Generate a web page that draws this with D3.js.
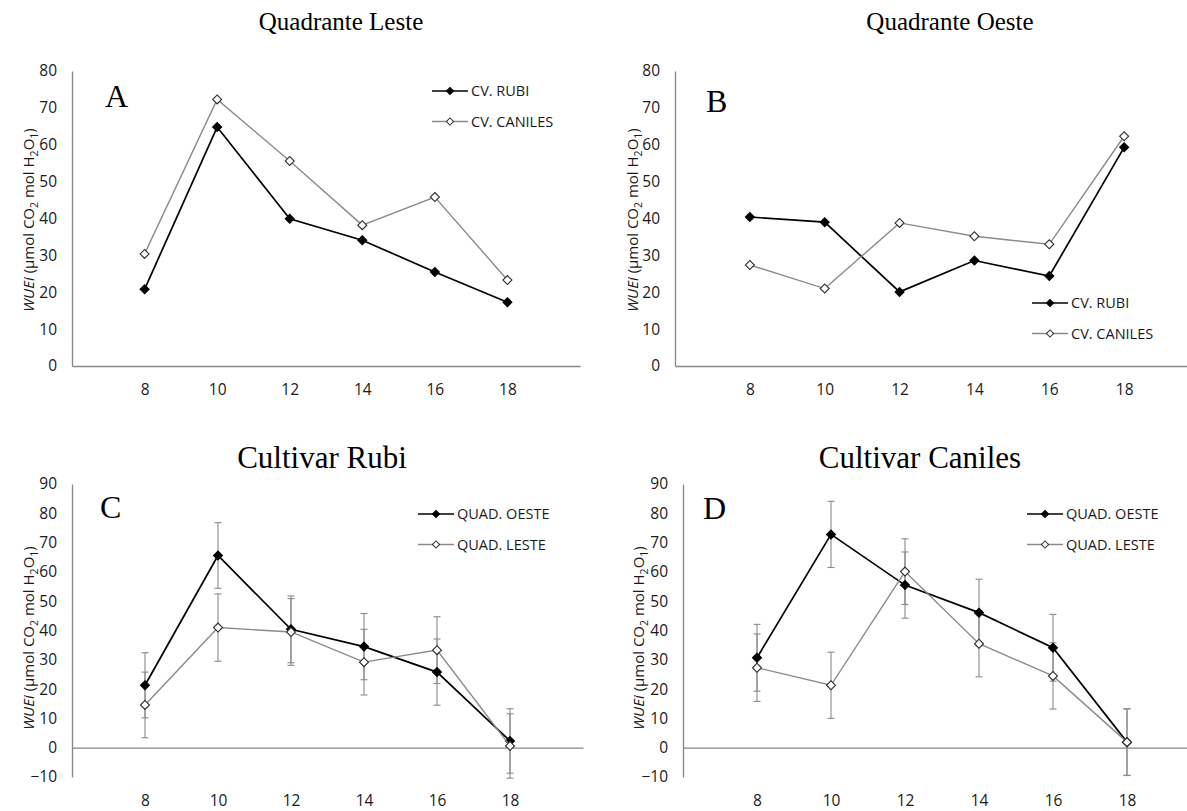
<!DOCTYPE html>
<html>
<head>
<meta charset="utf-8">
<script src="https://cdn.jsdelivr.net/npm/d3@7"></script>
<style>
  body { margin: 0; background: #fff; }
  svg { display: block; }
  .tick text { font-family: "Open Sans", sans-serif; font-size: 15.5px; fill: #1a1a1a; }
  .axis path.domain { stroke: #868686; stroke-width: 1.3px; }
  .title { font-family: "Liberation Serif", "Times New Roman", serif; fill: #000; }
  .letter { font-family: "Liberation Serif", "Times New Roman", serif; font-size: 32px; fill: #000; }
  .legend text { font-family: "Open Sans", sans-serif; font-size: 14.5px; fill: #1a1a1a; }
  .ylabel { font-family: "Open Sans", sans-serif; font-size: 15px; fill: #1a1a1a; }
</style>
</head>
<body>
<div id="chart"></div>
<script>
// hours of the day (x categories)
var hours = [8, 10, 12, 14, 16, 18];
var yTicksTop = [0, 10, 20, 30, 40, 50, 60, 70, 80];
var yTicksBottom = [-10, 0, 10, 20, 30, 40, 50, 60, 70, 80, 90];

// A - Quadrante Leste
var lesteRubi = [20.8, 64.8, 39.9, 34.1, 25.5, 17.3];
var lesteCaniles = [30.4, 72.3, 55.6, 38.2, 45.8, 23.3];
// B - Quadrante Oeste
var oesteRubi = [40.4, 39.0, 20.1, 28.6, 24.4, 59.3];
var oesteCaniles = [27.4, 21.0, 38.8, 35.2, 33.0, 62.3];
// C - Cultivar Rubi
var rubiQuadOeste = [21.3, 65.6, 40.4, 34.5, 25.8, 2.3];
var rubiQuadLeste = [14.6, 41.0, 39.5, 29.2, 33.3, 0.6];
var rubiQuadOesteErr = [11.1, 11.2, 11.4, 11.3, 11.3, 11.0];
var rubiQuadLesteErr = [11.2, 11.5, 11.4, 11.2, 11.4, 11.0];
// D - Cultivar Caniles
var canilesQuadOeste = [30.7, 72.8, 55.5, 46.1, 34.1, 1.9];
var canilesQuadLeste = [27.3, 21.3, 60.1, 35.5, 24.5, 1.9];
var canilesQuadOesteErr = [11.4, 11.3, 11.3, 11.4, 11.4, 11.4];
var canilesQuadLesteErr = [11.5, 11.3, 11.2, 11.3, 11.3, 11.3];

var svg = d3.select("#chart").append("svg")
    .attr("width", 1187)
    .attr("height", 811);

var panels = [
  { title: "Quadrante Leste", titleX: 341, titleY: 30, titleSize: 25, letter: "A", letterX: 105, letterY: 107,
    xr: [72, 580], yd: [0, 80], yr: [366, 71], yTicks: yTicksTop, labelPad: 18, ylabelX: 34, ylabelY: 220,
    legX: 432, legY: 91, names: ["CV. RUBI", "CV. CANILES"],
    s1: lesteRubi, s2: lesteCaniles },
  { title: "Quadrante Oeste", titleX: 950, titleY: 30, titleSize: 25, letter: "B", letterX: 706, letterY: 112,
    xr: [675, 1199], yd: [0, 80], yr: [366, 71], yTicks: yTicksTop, labelPad: 18, ylabelX: 638, ylabelY: 220,
    legX: 1032, legY: 303, names: ["CV. RUBI", "CV. CANILES"],
    s1: oesteRubi, s2: oesteCaniles },
  { title: "Cultivar Rubi", titleX: 322, titleY: 468, titleSize: 31, letter: "C", letterX: 100, letterY: 518,
    xr: [72, 583], yd: [-10, 90], yr: [777, 484], yTicks: yTicksBottom, labelPad: 47, ylabelX: 34, ylabelY: 638,
    legX: 418, legY: 514, names: ["QUAD. OESTE", "QUAD. LESTE"],
    s1: rubiQuadOeste, s2: rubiQuadLeste, e1: rubiQuadOesteErr, e2: rubiQuadLesteErr },
  { title: "Cultivar Caniles", titleX: 920, titleY: 468, titleSize: 31, letter: "D", letterX: 703, letterY: 519,
    xr: [683, 1201], yd: [-10, 90], yr: [777, 484], yTicks: yTicksBottom, labelPad: 47, ylabelX: 644, ylabelY: 638,
    legX: 1027, legY: 514, names: ["QUAD. OESTE", "QUAD. LESTE"],
    s1: canilesQuadOeste, s2: canilesQuadLeste, e1: canilesQuadOesteErr, e2: canilesQuadLesteErr }
];

var diamond = d3.symbol().type(d3.symbolSquare);

panels.forEach(function(p) { drawPanel(p); });

function drawPanel(p) {
  var x = d3.scaleLinear().domain([6, 20]).range(p.xr);
  var y = d3.scaleLinear().domain(p.yd).range(p.yr);
  var g = svg.append("g");

  // y axis
  g.append("g")
      .attr("class", "axis")
      .attr("transform", "translate(" + p.xr[0] + ",0)")
      .call(d3.axisLeft(y).tickValues(p.yTicks).tickFormat(d3.format("d")).tickSize(0).tickPadding(15));

  // x axis sits on zero, labels pushed to the bottom
  g.append("g")
      .attr("class", "axis")
      .attr("transform", "translate(0," + y(0) + ")")
      .call(d3.axisBottom(x).tickValues(hours).tickSize(0).tickPadding(p.labelPad));

  // title + letter
  g.append("text").attr("class", "title")
      .attr("x", p.titleX).attr("y", p.titleY)
      .attr("text-anchor", "middle")
      .style("font-size", p.titleSize + "px")
      .text(p.title);
  g.append("text").attr("class", "letter")
      .attr("x", p.letterX).attr("y", p.letterY)
      .text(p.letter);

  // y label
  var yl = g.append("text").attr("class", "ylabel")
      .attr("text-anchor", "middle")
      .attr("transform", "translate(" + p.ylabelX + "," + p.ylabelY + ") rotate(-90)");
  yl.append("tspan").style("font-style", "italic").text("WUEi");
  yl.append("tspan").text(" (µmol CO");
  yl.append("tspan").attr("dy", 4).style("font-size", "10.5px").text("2");
  yl.append("tspan").attr("dy", -4).text(" mol H");
  yl.append("tspan").attr("dy", 4).style("font-size", "10.5px").text("2");
  yl.append("tspan").attr("dy", -4).text("O");
  yl.append("tspan").attr("dy", 4).style("font-size", "10.5px").text("1");
  yl.append("tspan").attr("dy", -4).text(")");

  var series = [
    { vals: p.s1, err: p.e1, color: "#000", width: 1.7, fill: "#000", stroke: "#000" },
    { vals: p.s2, err: p.e2, color: "#8a8a8a", width: 1.4, fill: "#fff", stroke: "#2a2a2a" }
  ];

  // error bars
  series.forEach(function(s) {
    if (!s.err) return;
    var eb = g.append("g").attr("stroke", "#8a8a8a").attr("stroke-width", 1.1);
    hours.forEach(function(h, i) {
      var cx = x(h), top = y(s.vals[i] + s.err[i]), bot = y(s.vals[i] - s.err[i]);
      eb.append("line").attr("x1", cx).attr("x2", cx).attr("y1", top).attr("y2", bot);
      eb.append("line").attr("x1", cx - 3.5).attr("x2", cx + 3.5).attr("y1", top).attr("y2", top);
      eb.append("line").attr("x1", cx - 3.5).attr("x2", cx + 3.5).attr("y1", bot).attr("y2", bot);
    });
  });

  var line = d3.line()
      .x(function(d, i) { return x(hours[i]); })
      .y(function(d) { return y(d); });

  series.forEach(function(s) {
    g.append("path")
        .datum(s.vals)
        .attr("fill", "none")
        .attr("stroke", s.color)
        .attr("stroke-width", s.width)
        .attr("d", line);
    g.selectAll(null)
        .data(s.vals)
      .enter().append("path")
        .attr("d", diamond.size(40))
        .attr("transform", function(d, i) { return "translate(" + x(hours[i]) + "," + y(d) + ") rotate(45)"; })
        .attr("fill", s.fill)
        .attr("stroke", s.stroke)
        .attr("stroke-width", 1.1);
  });

  // legend
  var leg = g.append("g").attr("class", "legend");
  series.forEach(function(s, i) {
    var ly = p.legY + i * 30.5;
    leg.append("line")
        .attr("x1", p.legX).attr("x2", p.legX + 36)
        .attr("y1", ly).attr("y2", ly)
        .attr("stroke", s.color).attr("stroke-width", s.width);
    leg.append("path")
        .attr("d", diamond.size(26))
        .attr("transform", "translate(" + (p.legX + 18) + "," + ly + ") rotate(45)")
        .attr("fill", s.fill).attr("stroke", s.stroke).attr("stroke-width", 1);
    leg.append("text")
        .attr("x", p.legX + 39).attr("y", ly)
        .attr("dy", "0.36em")
        .text(p.names[i]);
  });
}
</script>
</body>
</html>
